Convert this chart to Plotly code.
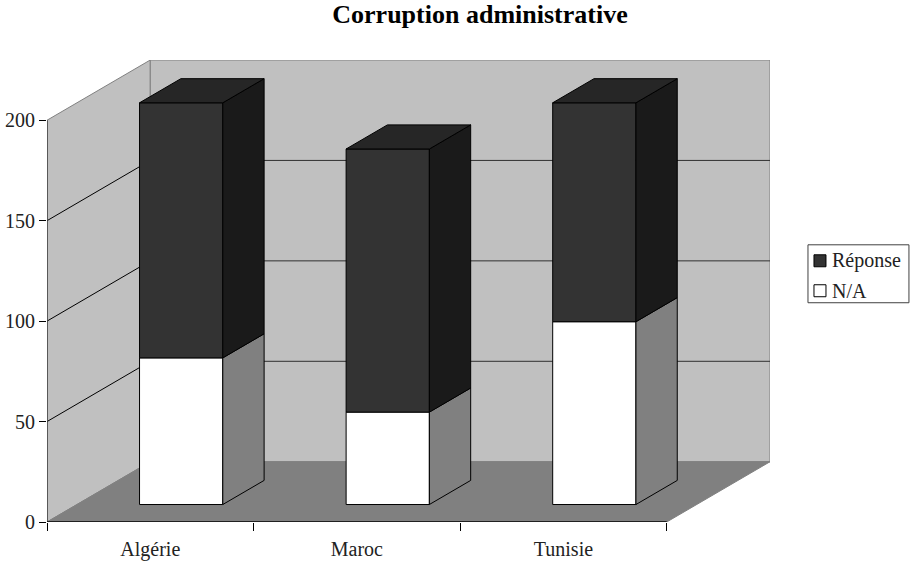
import plotly.graph_objects as go

categories = ["Algérie", "Maroc", "Tunisie"]
na_values = [73, 46, 91]
reponse_values = [127, 131, 109]
y_ticks = [0, 50, 100, 150, 200]
grid_values = [50, 100, 150]
title_text = "Corruption administrative"

# oblique projection of the chart's depth
DEPTH_X, DEPTH_Y = 0.5, 30
Z0, Z1 = 0.29, 0.69
BAR_L, BAR_W = 0.303, 0.403
YMAX = 200
N = len(categories)
WALL, FLOOR, DARK, DARK_SIDE, DARK_TOP, LIGHT_SIDE = "#C0C0C0", "#808080", "#333333", "#1A1A1A", "#262626", "#808080"
FONT = "Liberation Serif"


def proj(x, v, z):
    return x + z * DEPTH_X, v + z * DEPTH_Y


def path(points):
    pts = [proj(*p) for p in points]
    return "M" + " L".join(f"{a},{b}" for a, b in pts) + " Z"


shapes = [
    dict(type="path", path=path([(0, 0, 0), (0, YMAX, 0), (0, YMAX, 1), (0, 0, 1)]), fillcolor=WALL, line=dict(color=FLOOR, width=1), layer="below"),
    dict(type="path", path=path([(0, 0, 1), (0, YMAX, 1), (N, YMAX, 1), (N, 0, 1)]), fillcolor=WALL, line=dict(color=FLOOR, width=1), layer="below"),
    dict(type="path", path=path([(0, 0, 0), (N, 0, 0), (N, 0, 1), (0, 0, 1)]), fillcolor=FLOOR, line=dict(color=FLOOR, width=1), layer="below"),
]
for g in grid_values:
    a, b, c = proj(0, g, 0), proj(0, g, 1), proj(N, g, 1)
    shapes.append(dict(type="line", x0=a[0], y0=a[1], x1=b[0], y1=b[1], line=dict(color="black", width=1), layer="below"))
    shapes.append(dict(type="line", x0=b[0], y0=b[1], x1=c[0], y1=c[1], line=dict(color="#303030", width=1), layer="below"))
shapes.append(dict(type="line", x0=0, y0=0, x1=0, y1=YMAX, line=dict(color="#404040", width=1.5), layer="below"))
shapes.append(dict(type="line", x0=0, y0=0, x1=N, y1=0, line=dict(color="black", width=1.5), layer="below"))

fig = go.Figure()
x_front = [i + BAR_L + BAR_W / 2 + Z0 * DEPTH_X for i in range(N)]
base0 = Z0 * DEPTH_Y
fig.add_bar(name="N/A", x=x_front, y=na_values, base=[base0] * N, width=BAR_W,
            marker=dict(color="white", line=dict(color="black", width=1)),
            text=categories, textposition="none", hoverinfo="name+y", showlegend=False)
fig.add_bar(name="Réponse", x=x_front, y=reponse_values, base=[base0 + v for v in na_values], width=BAR_W,
            marker=dict(color=DARK, line=dict(color="black", width=1)),
            text=categories, textposition="none", hoverinfo="name+y", showlegend=False)


def face(points, color):
    pts = [proj(*p) for p in points]
    pts.append(pts[0])
    fig.add_scatter(x=[p[0] for p in pts], y=[p[1] for p in pts], mode="lines", fill="toself",
                    fillcolor=color, line=dict(color="black", width=1), hoverinfo="skip", showlegend=False)


for i in range(N):
    l, r = i + BAR_L, i + BAR_L + BAR_W
    na, tot = na_values[i], na_values[i] + reponse_values[i]
    face([(r, 0, Z0), (r, na, Z0), (r, na, Z1), (r, 0, Z1)], LIGHT_SIDE)
    face([(r, na, Z0), (r, tot, Z0), (r, tot, Z1), (r, na, Z1)], DARK_SIDE)
    face([(l, tot, Z0), (r, tot, Z0), (r, tot, Z1), (l, tot, Z1)], DARK_TOP)

# plot-area pixel box, legend placed relative to it
L, R, T, B = 46.7, 770.0, 60.0, 522.5


def px(v):
    return (v - L) / (R - L)


def py(v):
    return (B - v) / (B - T)


shapes.append(dict(type="rect", xref="paper", yref="paper", x0=px(808), x1=px(909), y0=py(303), y1=py(245),
                   fillcolor="white", line=dict(color="#404040", width=1)))
legend_rows = [("Réponse", DARK, 261), ("N/A", "white", 291)]
annotations = []
for label, color, yc in legend_rows:
    shapes.append(dict(type="rect", xref="paper", yref="paper", x0=px(814), x1=px(826), y0=py(yc + 6), y1=py(yc - 6),
                       fillcolor=color, line=dict(color="black", width=1)))
    annotations.append(dict(text=label, xref="paper", yref="paper", x=px(830), y=py(yc), xanchor="left", yanchor="middle",
                            showarrow=False, font=dict(family=FONT, size=20, color="#222222")))

fig.update_layout(
    width=910, height=565, autosize=False,
    margin=dict(l=L, r=910 - R, t=T, b=565 - B, pad=0, autoexpand=False),
    paper_bgcolor="white", plot_bgcolor="white",
    barmode="overlay", showlegend=False,
    font=dict(family=FONT, size=20, color="#222222"),
    title=dict(text=f"<b>{title_text}</b>", xref="container", yref="container", x=480 / 910, xanchor="center",
               y=1 - 14 / 565, yanchor="middle", font=dict(family=FONT, size=26, color="black")),
    shapes=shapes, annotations=annotations,
    xaxis=dict(range=[0, N + DEPTH_X], showgrid=False, zeroline=False, showline=False, automargin=False,
               tickmode="array", tickvals=[i + 0.5 for i in range(N)], ticktext=categories, ticks="",
               ticklabelstandoff=13,
               minor=dict(tickmode="array", tickvals=list(range(N + 1)), ticks="outside", ticklen=8, tickcolor="black", tickwidth=1)),
    yaxis=dict(range=[0, YMAX + DEPTH_Y], showgrid=False, zeroline=False, showline=False, automargin=False,
               tickmode="array", tickvals=y_ticks, ticks="outside", ticklen=7, tickcolor="black", tickwidth=1),
)

fig.write_html("out.html", post_script="document.body.style.margin='0';", config={"displayModeBar": False})
